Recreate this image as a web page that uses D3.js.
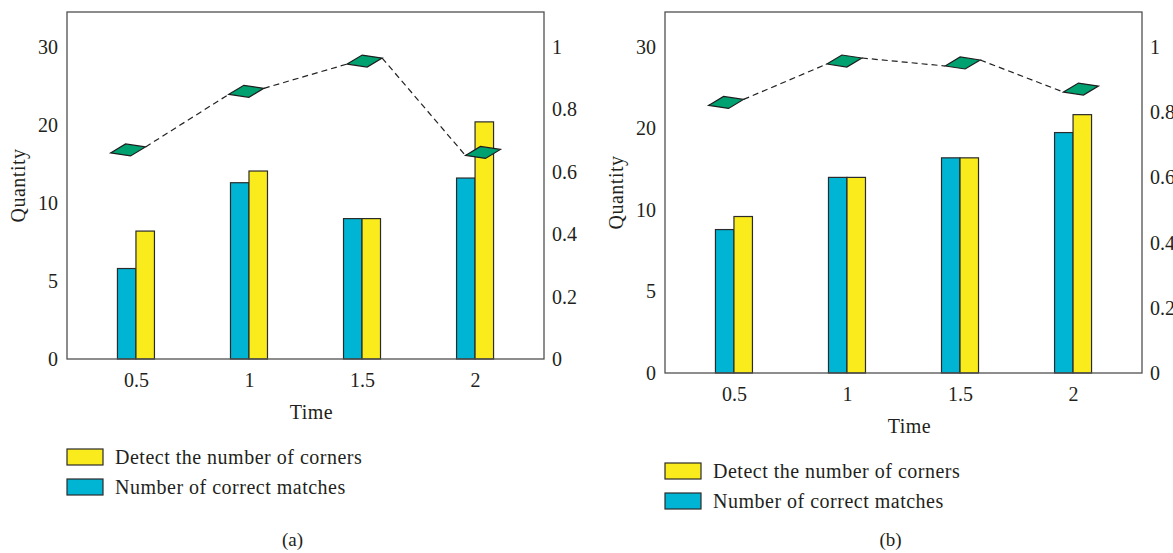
<!DOCTYPE html>
<html>
<head>
<meta charset="utf-8">
<script src="https://cdn.jsdelivr.net/npm/d3@7"></script>
<style>
  body { margin: 0; background: #fff; }
  text { font-family: "Liberation Serif", "DejaVu Serif", serif; fill: #231f20; }
</style>
</head>
<body>
<svg id="chart"></svg>
<script>
// data
var times = ["0.5", "1", "1.5", "2"]
var leftTicks = [0, 5, 10, 20, 30]
var rightTicks = [0, 0.2, 0.4, 0.6, 0.8, 1]

var cornersA = [8.2, 14.1, 9.0, 20.4]
var matchesA = [5.8, 12.6, 9.0, 13.2]
var ratioA = [0.67, 0.858, 0.955, 0.662]

var cornersB = [9.6, 14.0, 16.4, 21.7]
var matchesB = [8.8, 14.0, 16.4, 19.5]
var ratioB = [0.83, 0.957, 0.951, 0.871]

var legendNames = ["Detect the number of corners", "Number of correct matches"]

var yellow = "#faec1c", blue = "#00b4d4", green = "#00a170"

var svg = d3.select("#chart").attr("width", 1173).attr("height", 553)
svg.append("rect").attr("width", 1173).attr("height", 553).attr("fill", "#fff")

function drawPanel(left, top, w, h, corners, matches, ratio, caption) {
  var g = svg.append("g").attr("transform", "translate(" + left + "," + top + ")")

  var x = d3.scalePoint().domain(times).range([0, w]).padding(0.61)
  var xLine = d3.scalePoint().domain(times).range([0, w]).padding(0.516)
  // left axis has evenly spaced ticks 0,5,10,20,30
  var step = (h - 35) / 4
  var yL = d3.scaleLinear().domain(leftTicks).range(leftTicks.map((d, i) => h - i * step))
  var yR = d3.scaleLinear().domain([0, 1]).range([h, 35])
  var bw = 18.5

  // bars
  g.selectAll("rect.m").data(matches).enter().append("rect")
    .attr("x", (d, i) => x(times[i]) - bw)
    .attr("y", d => yL(d))
    .attr("width", bw)
    .attr("height", d => h - yL(d))
    .attr("fill", blue).attr("stroke", "#2b2b2b").attr("stroke-width", 1.2)
  g.selectAll("rect.c").data(corners).enter().append("rect")
    .attr("x", (d, i) => x(times[i]))
    .attr("y", d => yL(d))
    .attr("width", bw)
    .attr("height", d => h - yL(d))
    .attr("fill", yellow).attr("stroke", "#2b2b2b").attr("stroke-width", 1.2)

  // dashed line from right corner of one marker to left corner of the next
  var pts = ratio.map((d, i) => [xLine(times[i]), yR(d)])
  d3.pairs(pts).forEach(function (p) {
    g.append("line")
      .attr("x1", p[0][0] + 17.5).attr("y1", p[0][1] - 3)
      .attr("x2", p[1][0] - 17.5).attr("y2", p[1][1] + 3)
      .attr("stroke", "#222").attr("stroke-width", 1.2)
      .attr("stroke-dasharray", "6,4")
  })
  var shape = [[-17.5, 3], [-2.5, -6], [17.5, -3], [2.5, 6]]
  g.selectAll("path.mk").data(pts).enter().append("path")
    .attr("d", p => "M" + shape.map(s => [p[0] + s[0], p[1] + s[1]].join(",")).join("L") + "Z")
    .attr("fill", green).attr("stroke", "#1e1e1e").attr("stroke-width", 1.2)

  // frame
  g.append("rect").attr("width", w).attr("height", h)
    .attr("fill", "none").attr("stroke", "#505050").attr("stroke-width", 1.3)

  var ax = g.append("g").call(d3.axisLeft(yL).tickValues(leftTicks).tickSize(0).tickPadding(9))
  var axR = g.append("g").attr("transform", "translate(" + w + ",0)")
    .call(d3.axisRight(yR).tickValues(rightTicks).tickFormat(d3.format("~g")).tickSize(0).tickPadding(8))
  var axB = g.append("g").attr("transform", "translate(0," + h + ")")
    .call(d3.axisBottom(x).tickSize(0).tickPadding(14))
  ;[ax, axR, axB].forEach(function (a) {
    a.select(".domain").remove()
    a.selectAll("text").style("font-size", "20px").style("font-family", null).attr("fill", "#231f20")
  })

  g.append("text").attr("transform", "translate(-49," + (h / 2) + ") rotate(-90)")
    .attr("text-anchor", "middle").attr("dy", "0.35em")
    .style("font-size", "20px").style("letter-spacing", "0.5px").text("Quantity")

  g.append("text").attr("x", w / 2 + 6).attr("y", h + 60)
    .attr("text-anchor", "middle").style("font-size", "20px").style("letter-spacing", "0.5px").text("Time")

  var leg = g.selectAll("g.leg").data(legendNames).enter().append("g")
    .attr("transform", (d, i) => "translate(0," + (h + 90 + i * 30) + ")")
  leg.append("rect").attr("width", 36).attr("height", 16)
    .attr("fill", (d, i) => i == 0 ? yellow : blue)
    .attr("stroke", "#2b2b2b").attr("stroke-width", 1.2)
  leg.append("text").attr("x", 48).attr("y", 8).attr("dy", "0.35em")
    .style("font-size", "20px").style("letter-spacing", "0.5px").text(d => d)

  g.append("text").attr("x", w / 2 - 13).attr("y", 539 - top).attr("dy", "0.35em")
    .attr("text-anchor", "middle").style("font-size", "19px").text(caption)
}

drawPanel(67, 12, 477, 347, cornersA, matchesA, ratioA, "(a)")
drawPanel(665, 12, 477, 361, cornersB, matchesB, ratioB, "(b)")
</script>
</body>
</html>
